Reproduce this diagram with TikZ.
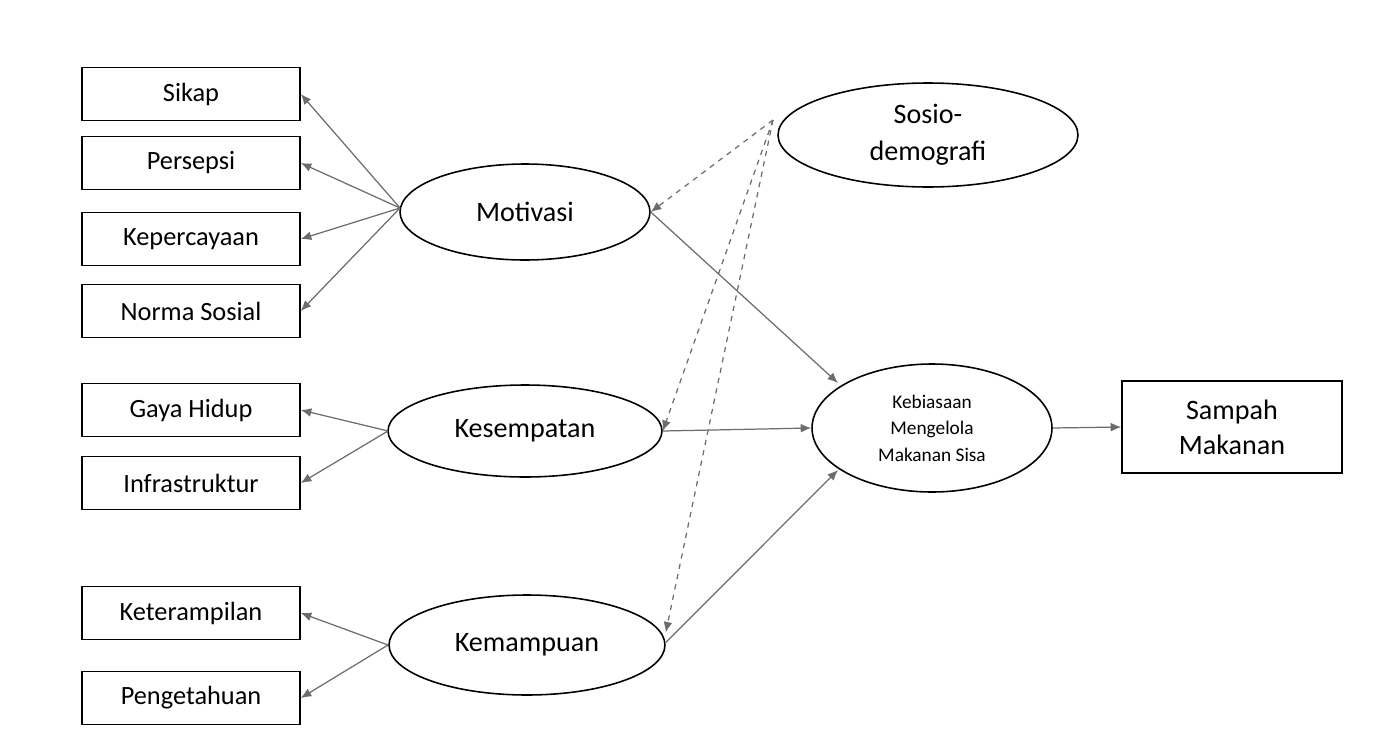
\documentclass[tikz,border=0pt]{standalone}
\usepackage{fontspec}
\setmainfont{Carlito}
\usetikzlibrary{arrows.meta,shapes.geometric}
\begin{document}
\begin{tikzpicture}[x=0.02cm,y=-0.02cm,
  box/.style={draw,line width=0.9pt,minimum width=4.36cm,minimum height=1.06cm,inner sep=0pt,font=\fontsize{15}{18}\selectfont},
  ell/.style={draw,ellipse,line width=0.9pt,inner sep=0pt,font=\fontsize{16}{19}\selectfont,align=center},
  arr/.style={draw=gray!85!black,line width=0.7pt,-{Latex[length=6pt,width=5pt]}},
  darr/.style={arr,dashed}]
\useasboundingbox (0,0) rectangle (1390,751);
\node[box] (sikap) at (191,94) {Sikap};
\node[box] (pers) at (191,163) {Persepsi};
\node[box] (kep) at (191,239) {Kepercayaan};
\node[box] (norma) at (191,311) {Norma Sosial};
\node[box] (gaya) at (191,410) {Gaya Hidup};
\node[box] (infra) at (191,483) {Infrastruktur};
\node[box] (ket) at (191,613) {Keterampilan};
\node[box] (peng) at (191,698) {Pengetahuan};
\node[ell,minimum width=5cm,minimum height=1.92cm] (mot) at (525,212) {Motivasi};
\node[ell,minimum width=5.48cm,minimum height=1.84cm] (kes) at (525,431) {Kesempatan};
\node[ell,minimum width=5.52cm,minimum height=2cm] (kem) at (527,645) {Kemampuan};
\node[ell,minimum width=6cm,minimum height=2.08cm,font=\fontsize{16}{21}\selectfont] (sos) at (928,135) {Sosio-\\demografi};
\node[ell,minimum width=4.8cm,minimum height=2.56cm,font=\fontsize{11}{15}\selectfont] (keb) at (932,428) {Kebiasaan\\Mengelola\\Makanan Sisa};
\node[box,minimum width=4.4cm,minimum height=1.84cm,align=center,font=\fontsize{16}{20}\selectfont] (samp) at (1232,427) {Sampah\\Makanan};
\coordinate (m0) at (400,208);
\coordinate (k0) at (388,431);
\coordinate (c0) at (388,645);
\coordinate (s0) at (773,120);
\foreach \t in {sikap,pers,kep,norma} \draw[arr] (m0) -- (\t.east);
\foreach \t in {gaya,infra} \draw[arr] (k0) -- (\t.east);
\foreach \t in {ket,peng} \draw[arr] (c0) -- (\t.east);
\draw[darr] (s0) -- (mot.east);
\draw[darr] (s0) -- (kes.east);
\draw[darr] (s0) -- ([yshift=0.25cm]kem.east);
\draw[arr] (mot.east) -- (838,383);
\draw[arr] (kes.east) -- (keb.west);
\draw[arr] ([yshift=0.05cm]kem.east) -- (838,470);
\draw[arr] (keb.east) -- (samp.west);
\end{tikzpicture}
\end{document}
